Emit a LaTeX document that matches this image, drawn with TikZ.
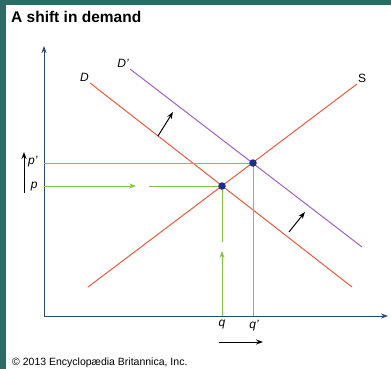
\documentclass[tikz,border=0pt]{standalone}
\usepackage{fontspec}
\setmainfont{Liberation Sans}
\usetikzlibrary{arrows.meta, positioning}
\definecolor{frameteal}{HTML}{2E6B66}
\definecolor{supplyred}{HTML}{EC5B3D}
\definecolor{shiftpurple}{HTML}{A162BF}
\definecolor{guidegreen}{HTML}{84C441}
\definecolor{axisblue}{HTML}{2B4A6B}
\definecolor{dotblue}{HTML}{1C2F86}
\tikzset{>={Stealth[length=7pt, width=5pt]}, % bold arrow heads
axis/.style={axisblue, line width=1pt},
curve/.style={line width=1pt},
guide/.style={guidegreen, line width=1pt},
eqpt/.style={circle, fill=dotblue, inner sep=0pt, minimum size=7.5pt},
pricelabel/.style={font=\itshape\fontsize{12}{14}\selectfont},
shiftarrow/.style={->, line width=1pt},
}

\begin{document}
\begin{tikzpicture}[x=1pt, y=-1pt]
  % frame
  \fill[frameteal] (0,0) rectangle (391,369);
  \fill[white] (6,5) rectangle (391,369);
  \useasboundingbox (0,0) rectangle (391,369);

  \node[anchor=base west, inner sep=0pt, font=\bfseries\fontsize{15.5}{18}\selectfont] (title) at (11,23) {A shift in demand};

  % axes
  \coordinate (O) at (44,316);
  \coordinate (ytop) at (44,46);
  \coordinate (xend) at (388,316);
  \draw[axis, ->] (O) -- (ytop);
  \draw[axis, ->] (O) -- (xend);

  % curves
  \coordinate (D1) at (90,83);
  \coordinate (D2) at (352,287);
  \coordinate (Dp1) at (130,69);
  \coordinate (Dp2) at (362,247);
  \coordinate (S1) at (88,287);
  \coordinate (S2) at (357,84);
  \draw[curve, supplyred] (D1) -- (D2);
  \draw[curve, supplyred] (S1) -- (S2);
  \draw[curve, shiftpurple] (Dp1) -- (Dp2);
  \node[pricelabel, anchor=south east, inner sep=1pt] (Dlab) at (D1) {D};
  \node[pricelabel, anchor=south east, inner sep=1pt] (Dplab) at (Dp1) {D'};
  \node[font=\fontsize{12}{14}\selectfont, anchor=south west, inner sep=1pt] (Slab) at (S2) {S};

  % equilibria
  \coordinate (E1) at (222,186);
  \coordinate (E2) at (253,163);
  \coordinate (p) at (44,186);
  \coordinate (pp) at (44,163);
  \coordinate (q) at (222,316);
  \coordinate (qp) at (253,316);
  \coordinate (pa) at (136,186);
  \coordinate (pb) at (149,186);
  \coordinate (qa) at (222,251);
  \coordinate (qb) at (222,242);
  \draw[guide] (pp) -- (E2) -- (qp);
  \draw[guide, ->] (p) -- (pa);
  \draw[guide] (pb) -- (E1);
  \draw[guide, ->] (q) -- (qa);
  \draw[guide] (qb) -- (E1);
  \node[eqpt] (eq1) at (E1) {};
  \node[eqpt] (eq2) at (E2) {};

  % axis labels
  \node[pricelabel, anchor=east] (plab) at (41,187) {p};
  \node[pricelabel, anchor=east] (pplab) at (41,162) {p'};
  \node[pricelabel, anchor=north] (qlab) at (222,317) {q};
  \node[pricelabel, anchor=north] (qplab) at (254,317) {q'};

  % shift arrows
  \coordinate (up1) at (24,193);
  \coordinate (up2) at (24,152);
  \coordinate (rt1) at (219,342);
  \coordinate (rt2) at (263,342);
  \coordinate (s1a) at (158,136);
  \coordinate (s1b) at (173,112);
  \coordinate (s2a) at (289,232);
  \coordinate (s2b) at (305,212);
  \draw[shiftarrow] (up1) -- (up2);
  \draw[shiftarrow] (rt1) -- (rt2);
  \draw[shiftarrow] (s1a) -- (s1b);
  \draw[shiftarrow] (s2a) -- (s2b);

  \node[anchor=base west, inner sep=0pt, font=\fontsize{10.5}{12}\selectfont] (credit) at (12,365) {© 2013 Encyclopædia Britannica, Inc.};
\end{tikzpicture}
\end{document}
